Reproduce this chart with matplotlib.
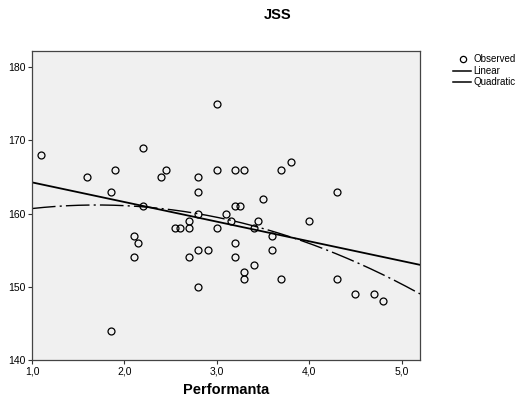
import numpy as np
import matplotlib
matplotlib.use("Agg")
import matplotlib.pyplot as plt
from matplotlib.lines import Line2D

plt.rcParams['font.family'] = ['Liberation Sans', 'DejaVu Sans']

performanta = [1.1, 1.6, 1.85, 1.9, 1.85, 2.1, 2.15, 2.1, 2.2, 2.2, 2.4, 2.45, 2.55, 2.6,
               2.7, 2.7, 2.7, 2.8, 2.8, 2.8, 2.8, 2.8, 2.9, 3.0, 3.0, 3.0, 3.1, 3.15,
               3.2, 3.2, 3.25, 3.2, 3.2, 3.3, 3.3, 3.3, 3.4, 3.4, 3.45, 3.5, 3.6, 3.6,
               3.7, 3.7, 3.8, 4.0, 4.3, 4.3, 4.5, 4.7, 4.8]
jss = [168, 165, 163, 166, 144, 157, 156, 154, 169, 161, 165, 166, 158, 158,
       159, 158, 154, 165, 163, 160, 155, 150, 155, 175, 166, 158, 160, 159,
       166, 161, 161, 156, 154, 166, 152, 151, 158, 153, 159, 162, 157, 155,
       166, 151, 167, 159, 163, 151, 149, 149, 148]

x_ticks = [1.0, 2.0, 3.0, 4.0, 5.0]
x_tick_labels = ["1,0", "2,0", "3,0", "4,0", "5,0"]
y_ticks = [140, 150, 160, 170, 180]

fig = plt.figure(figsize=(5.18, 4.03), dpi=100)
W, H = 518, 403
ax = fig.add_axes([32 / W, 1 - 360 / H, (420 - 32) / W, (360 - 51) / H])
ax.set_facecolor('#f0f0f0')

x = np.array(performanta)
y = np.array(jss)
ax.plot(x, y, 'o', mfc='none', mec='black', ms=5, mew=0.9, zorder=3)

xs = np.linspace(1.0, 5.2, 300)
lin = np.polyfit(x, y, 1)
quad = np.polyfit(x, y, 2)
ax.plot(xs, np.polyval(lin, xs), color='black', lw=1.3)
ax.plot(xs, np.polyval(quad, xs), color='black', lw=1.0, dashes=(17, 3, 1.5, 3))

ax.set_xlim(1.0, 5.2)
ax.set_ylim(140, 182.2)
ax.set_xticks(x_ticks)
ax.set_xticklabels(x_tick_labels)
ax.set_yticks(y_ticks)
ax.tick_params(direction='out', length=3, width=0.8, labelsize=7.5, pad=1.5, color='#333333')
for s in ax.spines.values():
    s.set_color('#444444')
    s.set_linewidth(0.9)

fig.text(278 / W, 1 - 15 / H, 'JSS', ha='center', va='center', fontsize=10.5, fontweight='bold')
ax.set_xlabel('Performanta', fontsize=10.5, fontweight='bold', labelpad=5)

# legend drawn in figure pixel positions
rows = [('Observed', 59), ('Linear', 70.5), ('Quadratic', 82)]
for i, (lab, yy) in enumerate(rows):
    yf = 1 - yy / H
    if i == 0:
        fig.add_artist(Line2D([463 / W], [yf], marker='o', mfc='none', mec='black', ms=4.5, mew=0.9,
                              transform=fig.transFigure))
    else:
        fig.add_artist(Line2D([453 / W, 471 / W], [yf, yf], color='black', lw=1.1,
                              transform=fig.transFigure))
    fig.text(473 / W, yf, lab, ha='left', va='center', fontsize=7)

fig.savefig('out.png', dpi=100)
